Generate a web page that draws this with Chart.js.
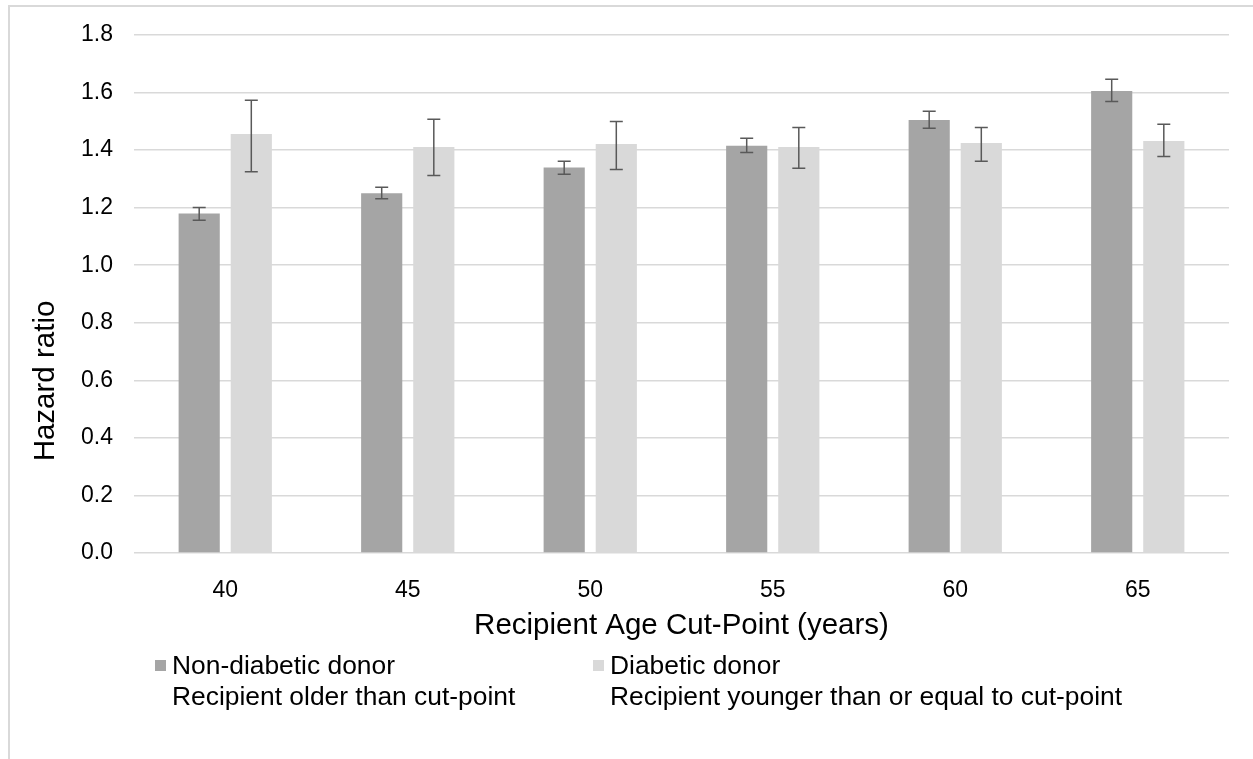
<!DOCTYPE html>
<html>
<head>
<meta charset="utf-8">
<script src="https://cdn.jsdelivr.net/npm/chart.js@4/dist/chart.umd.min.js"></script>
<style>
  body { margin: 0; background: #fff; font-family: "Liberation Sans", Arial, sans-serif; }
  #wrap { position: relative; width: 1253px; height: 759px; overflow: hidden; }
  #frame { position: absolute; left: 8px; top: 5px; width: 1300px; height: 800px;
           border-top: 2px solid #d9d9d9; border-left: 2px solid #d9d9d9; }
  #chart { position: absolute; left: 0; top: 0; }
  .leg { position: absolute; font-size: 26.4px; line-height: 31px; color: #000; white-space: nowrap; }
  .leg .box { position: absolute; left: -17px; top: 10px; width: 11px; height: 11px; }
</style>
</head>
<body>
<div id="wrap">
  <div id="frame"></div>
  <canvas id="chart" width="1253" height="759"></canvas>
  <div id="legend"></div>
</div>
<script>
// Données
const cutPoints = ['40', '45', '50', '55', '60', '65'];
const seriesNames = [
    ['Non-diabetic donor', 'Recipient older than cut-point'],
    ['Diabetic donor', 'Recipient younger than or equal to cut-point']
];
const nonDiabetic = [1.18, 1.25, 1.34, 1.415, 1.505, 1.605];
const nonDiabeticLow = [1.156, 1.231, 1.316, 1.392, 1.476, 1.569];
const nonDiabeticHigh = [1.201, 1.271, 1.361, 1.441, 1.535, 1.646];
const diabetic = [1.456, 1.411, 1.421, 1.411, 1.425, 1.432];
const diabeticLow = [1.325, 1.312, 1.333, 1.337, 1.361, 1.378];
const diabeticHigh = [1.573, 1.507, 1.499, 1.479, 1.479, 1.490];
const barColors = ['#a5a5a5', '#d9d9d9'];
const yTitle = 'Hazard ratio';

// Barres d'erreur dessinées par-dessus les barres
const errorBars = {
    id: 'errorBars',
    afterDatasetsDraw(chart) {
        const ctx = chart.ctx;
        const y = chart.scales.y;
        ctx.save();
        ctx.strokeStyle = '#595959';
        ctx.lineWidth = 1.5;
        chart.data.datasets.forEach((ds, i) => {
            chart.getDatasetMeta(i).data.forEach((bar, j) => {
                const top = y.getPixelForValue(ds.high[j]);
                const bottom = y.getPixelForValue(ds.low[j]);
                ctx.beginPath();
                ctx.moveTo(bar.x, top);
                ctx.lineTo(bar.x, bottom);
                ctx.moveTo(bar.x - 6.5, top);
                ctx.lineTo(bar.x + 6.5, top);
                ctx.moveTo(bar.x - 6.5, bottom);
                ctx.lineTo(bar.x + 6.5, bottom);
                ctx.stroke();
            });
        });
        ctx.restore();
    }
};

// Titre de l'axe Y, centré plus bas que la zone de tracé comme dans l'original
const yAxisTitle = {
    id: 'yAxisTitle',
    afterDraw(chart) {
        const ctx = chart.ctx;
        ctx.save();
        ctx.translate(46, 381);
        ctx.rotate(-Math.PI / 2);
        ctx.font = '29.5px "Liberation Sans"';
        ctx.fillStyle = '#000';
        ctx.textAlign = 'center';
        ctx.textBaseline = 'middle';
        ctx.fillText(yTitle, 0, 0);
        ctx.restore();
    }
};

const chart = new Chart(document.getElementById('chart'), {
    type: 'bar',
    data: {
        labels: cutPoints,
        datasets: [{
            label: seriesNames[0].join(' '),
            data: nonDiabetic,
            low: nonDiabeticLow,
            high: nonDiabeticHigh,
            backgroundColor: barColors[0]
        }, {
            label: seriesNames[1].join(' '),
            data: diabetic,
            low: diabeticLow,
            high: diabeticHigh,
            backgroundColor: barColors[1]
        }]
    },
    options: {
        responsive: false,
        animation: false,
        categoryPercentage: 0.571,
        barPercentage: 0.79,
        layout: { padding: { top: 35, right: 24, bottom: 106, left: 0 } },
        plugins: {
            legend: { display: false },
            tooltip: { enabled: false }
        },
        scales: {
            x: {
                grid: { display: false },
                border: { display: false },
                ticks: { color: '#000', padding: 16, font: { family: 'Liberation Sans', size: 23 } },
                title: {
                    display: true,
                    text: 'Recipient Age Cut-Point (years)',
                    color: '#000',
                    padding: { top: 0, bottom: 9 },
                    font: { family: 'Liberation Sans', size: 29.5 }
                },
                afterFit(scale) { scale.height = 100; }
            },
            y: {
                min: 0,
                max: 1.8,
                ticks: {
                    stepSize: 0.2,
                    color: '#000',
                    padding: 21,
                    font: { family: 'Liberation Sans', size: 23 },
                    callback: v => Number(v).toFixed(1)
                },
                grid: { color: '#d9d9d9', lineWidth: 1.5, drawTicks: false },
                border: { display: false },
                afterFit(scale) { scale.width = 134; }
            }
        }
    },
    plugins: [errorBars, yAxisTitle]
});

// Légende sur deux lignes
const legend = document.getElementById('legend');
const legendX = [172, 610];
seriesNames.forEach((lines, i) => {
    const div = document.createElement('div');
    div.className = 'leg';
    div.style.left = legendX[i] + 'px';
    div.style.top = '650px';
    div.innerHTML = '<span class="box" style="background:' + barColors[i] + '"></span>' + lines.join('<br>');
    legend.appendChild(div);
});
</script>
</body>
</html>
